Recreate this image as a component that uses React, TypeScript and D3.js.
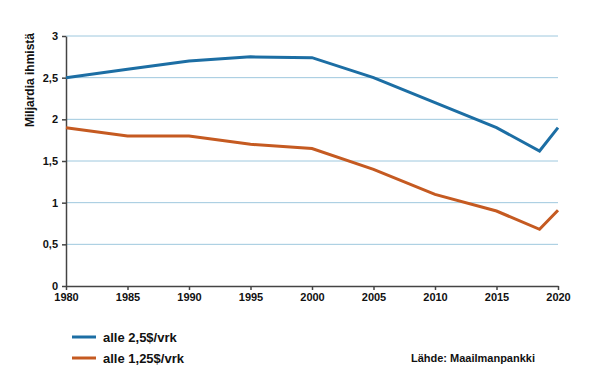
import { useEffect, useRef } from "react";
import { select, scaleLinear, line, axisLeft, axisBottom } from "d3";

const WIDTH = 600;
const HEIGHT = 392;
const MARGIN = { top: 36, right: 42, bottom: 106, left: 66 };

const YEARS = [1980, 1985, 1990, 1995, 2000, 2005, 2010, 2015, 2018.5, 2020];
const UNDER_2_5 = [2.5, 2.6, 2.7, 2.75, 2.74, 2.5, 2.2, 1.9, 1.62, 1.9];
const UNDER_1_25 = [1.9, 1.8, 1.8, 1.7, 1.65, 1.4, 1.1, 0.9, 0.68, 0.91];
const X_TICKS = [1980, 1985, 1990, 1995, 2000, 2005, 2010, 2015, 2020];
const Y_TICKS = [0, 0.5, 1, 1.5, 2, 2.5, 3];

const SERIES = [
  { label: "alle 2,5$/vrk", values: UNDER_2_5, color: "#1c6ea4" },
  { label: "alle 1,25$/vrk", values: UNDER_1_25, color: "#c55a21" },
];

const FONT = "'Liberation Sans', Arial, sans-serif";

export default function App() {
  const svgRef = useRef<SVGSVGElement>(null);

  useEffect(() => {
    const svg = select(svgRef.current);
    svg.selectAll("*").remove();

    const innerW = WIDTH - MARGIN.left - MARGIN.right;
    const innerH = HEIGHT - MARGIN.top - MARGIN.bottom;

    const x = scaleLinear().domain([1980, 2020]).range([0, innerW]);
    const y = scaleLinear().domain([0, 3]).range([innerH, 0]);

    const g = svg
      .append("g")
      .attr("transform", `translate(${MARGIN.left},${MARGIN.top})`);

    // gridlines
    Y_TICKS.filter((t) => t > 0).forEach((t) => {
      g.append("line")
        .attr("x1", 0)
        .attr("x2", innerW)
        .attr("y1", y(t))
        .attr("y2", y(t))
        .attr("stroke", "#9ec8de")
        .attr("stroke-width", 1);
    });

    // axes
    const yAxis = g
      .append("g")
      .call(
        axisLeft(y)
          .tickValues(Y_TICKS)
          .tickSize(4)
          .tickSizeOuter(0)
          .tickPadding(4)
          .tickFormat((d) => String(d).replace(".", ","))
      );
    const xAxis = g
      .append("g")
      .attr("transform", `translate(0,${innerH})`)
      .call(
        axisBottom(x)
          .tickValues(X_TICKS)
          .tickSize(4)
          .tickSizeOuter(0)
          .tickPadding(3)
          .tickFormat((d) => String(d))
      );
    [yAxis, xAxis].forEach((a) => {
      a.selectAll("path, line").attr("stroke", "#444").attr("stroke-width", 1.5);
      a.selectAll("text")
        .attr("font-family", FONT)
        .attr("font-size", "11px")
        .attr("font-weight", "bold")
        .attr("fill", "#111");
    });

    // lines
    const path = line<number>()
      .x((_, i) => x(YEARS[i]))
      .y((d) => y(d));
    SERIES.forEach((s) => {
      g.append("path")
        .datum(s.values)
        .attr("d", path)
        .attr("fill", "none")
        .attr("stroke", s.color)
        .attr("stroke-width", 3)
        .attr("stroke-linejoin", "miter");
    });

    // y title
    svg
      .append("text")
      .attr("transform", `translate(34,33) rotate(-90)`)
      .attr("text-anchor", "end")
      .attr("font-family", FONT)
      .attr("font-size", "12px")
      .attr("font-weight", "bold")
      .attr("fill", "#111")
      .text("Miljardia ihmistä");

    // legend
    SERIES.forEach((s, i) => {
      const ly = 337 + i * 21;
      svg
        .append("line")
        .attr("x1", 72)
        .attr("x2", 96)
        .attr("y1", ly)
        .attr("y2", ly)
        .attr("stroke", s.color)
        .attr("stroke-width", 3);
      svg
        .append("text")
        .attr("x", 103)
        .attr("y", ly)
        .attr("dy", "0.35em")
        .attr("font-family", FONT)
        .attr("font-size", "13px")
        .attr("font-weight", "bold")
        .attr("fill", "#111")
        .text(s.label);
    });

    svg
      .append("text")
      .attr("x", 535)
      .attr("y", 358)
      .attr("dy", "0.35em")
      .attr("text-anchor", "end")
      .attr("font-family", FONT)
      .attr("font-size", "11px")
      .attr("font-weight", "bold")
      .attr("fill", "#111")
      .text("Lähde: Maailmanpankki");
  }, []);

  return (
    <svg
      ref={svgRef}
      width={WIDTH}
      height={HEIGHT}
      style={{ position: "absolute", left: 0, top: 0, background: "#fff" }}
    />
  );
}
